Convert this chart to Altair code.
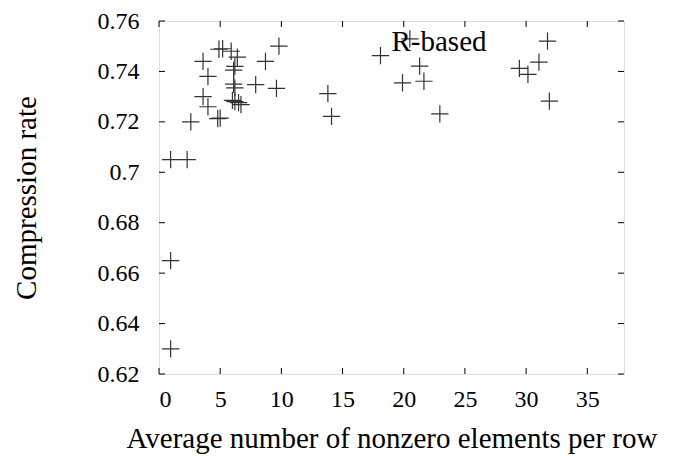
import altair as alt
import pandas as pd

# Data
avg_nnz = [0.95, 2.3, 0.95, 0.95, 2.6, 3.6, 4.0, 3.6, 4.0, 4.8, 5.0, 4.9, 5.2, 5.9,
           6.4, 6.2, 6.1, 6.1, 6.2, 6.0, 6.2, 6.5, 6.7, 7.9, 8.7, 9.6, 9.8, 13.8,
           14.1, 18.1, 20.5, 21.3, 21.65, 19.9, 22.95, 29.45, 30.15, 31.05, 31.75, 31.9]
comp_rate = [0.705, 0.705, 0.665, 0.630, 0.720, 0.744, 0.738, 0.730, 0.726, 0.7213,
             0.7215, 0.7488, 0.749, 0.748, 0.7457, 0.742, 0.7405, 0.735, 0.7335,
             0.7285, 0.728, 0.7276, 0.7268, 0.7348, 0.744, 0.7333, 0.750, 0.7312,
             0.7222, 0.7463, 0.7529, 0.7421, 0.7361, 0.7355, 0.7232, 0.7412, 0.7388,
             0.7437, 0.752, 0.7282]
x_ticks = [0, 5, 10, 15, 20, 25, 30, 35]
y_ticks = [0.62, 0.64, 0.66, 0.68, 0.70, 0.72, 0.74, 0.76]
x_domain = [0, 38]
y_domain = [0.62, 0.76]
key_label = "R-based"
key_x = [19.0]
key_y = [0.7482]

W, H = 465, 353
FONT = "Liberation Serif"

df = pd.DataFrame({"x": avg_nnz, "y": comp_rate})
xt = pd.DataFrame({"x": x_ticks})
yt = pd.DataFrame({"y": y_ticks})
key = pd.DataFrame({"x": key_x, "y": key_y, "t": [key_label]})

xs = alt.Scale(domain=x_domain, nice=False, zero=False)
ys = alt.Scale(domain=y_domain, nice=False, zero=False)

points = alt.Chart(df).mark_point(
    shape="M-1,0L1,0M0,-1L0,1", size=300, filled=False,
    stroke="#333333", strokeWidth=1.2, opacity=1
).encode(
    x=alt.X("x:Q", scale=xs, axis=alt.Axis(
        title="Average number of nonzero elements per row", values=x_ticks,
        ticks=False, domain=False, grid=False, labelFont=FONT, labelFontSize=24,
        labelColor="black", labelPadding=13, titleFont=FONT, titleFontSize=29,
        titleFontWeight="normal", titleColor="black", titlePadding=13)),
    y=alt.Y("y:Q", scale=ys, axis=alt.Axis(
        title="Compression rate", values=y_ticks,
        labelExpr="format(datum.value, '.2~f')",
        ticks=False, domain=False, grid=False, labelFont=FONT, labelFontSize=24,
        labelColor="black", labelPadding=20, titleFont=FONT, titleFontSize=29,
        titleFontWeight="normal", titleColor="black", titlePadding=56)),
)

tick_style = dict(color="black", strokeWidth=1)
xb = alt.Chart(xt).mark_rule(**tick_style).encode(
    x=alt.X("x:Q", scale=xs), y=alt.value(H), y2=alt.value(H - 6))
xtop = alt.Chart(xt).mark_rule(**tick_style).encode(
    x=alt.X("x:Q", scale=xs), y=alt.value(0), y2=alt.value(6))
yl = alt.Chart(yt).mark_rule(**tick_style).encode(
    y=alt.Y("y:Q", scale=ys), x=alt.value(0), x2=alt.value(6))
yr = alt.Chart(yt).mark_rule(**tick_style).encode(
    y=alt.Y("y:Q", scale=ys), x=alt.value(W), x2=alt.value(W - 6))

keytext = alt.Chart(key).mark_text(
    font=FONT, fontSize=29, align="left", baseline="alphabetic", color="black"
).encode(x=alt.X("x:Q", scale=xs), y=alt.Y("y:Q", scale=ys), text="t:N")

chart = alt.layer(points, xb, xtop, yl, yr, keytext).properties(
    width=W, height=H,
    autosize=alt.AutoSizeParams(type="none"),
    padding={"left": 159, "top": 21, "right": 52, "bottom": 87},
).configure_view(stroke="black", strokeWidth=1.3).configure(background="white")

chart.save("out.html", embed_options={"renderer": "svg", "actions": False})
